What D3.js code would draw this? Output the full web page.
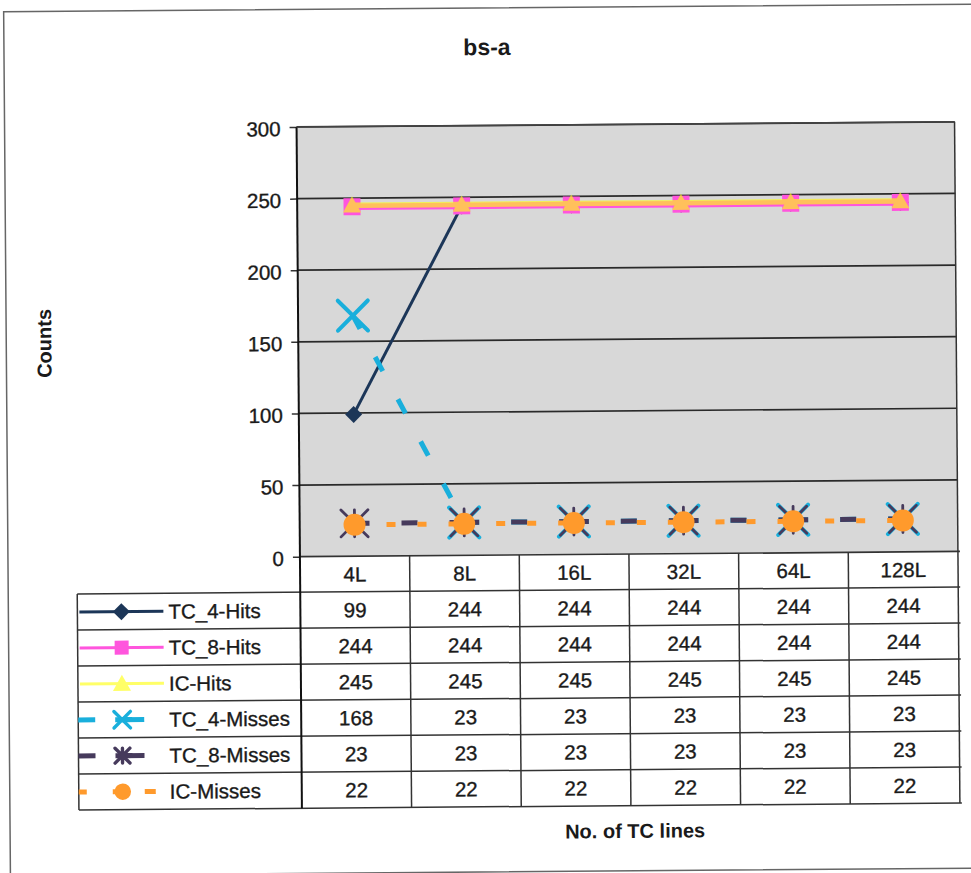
<!DOCTYPE html>
<html>
<head>
<meta charset="utf-8">
<script src="https://cdn.jsdelivr.net/npm/d3@7"></script>
<style>
  body { margin: 0; background: #fff; }
  svg { display: block; }
  text { font-family: "Liberation Sans", Arial, sans-serif; fill: #1a1a1a; }
  text.reg { stroke: #1a1a1a; stroke-width: 0.35; }
</style>
</head>
<body>
<svg id="chart" width="971" height="873"></svg>
<script>
// ---- data ----
const chartTitle = "bs-a";
const yTitle = "Counts";
const xTitle = "No. of TC lines";
const categories = ["4L", "8L", "16L", "32L", "64L", "128L"];
const seriesNames = ["TC_4-Hits", "TC_8-Hits", "IC-Hits", "TC_4-Misses", "TC_8-Misses", "IC-Misses"];
const tc4Hits   = [99, 244, 244, 244, 244, 244];
const tc8Hits   = [244, 244, 244, 244, 244, 244];
const icHits    = [245, 245, 245, 245, 245, 245];
const tc4Misses = [168, 23, 23, 23, 23, 23];
const tc8Misses = [23, 23, 23, 23, 23, 23];
const icMisses  = [22, 22, 22, 22, 22, 22];
const yTicks = [0, 50, 100, 150, 200, 250, 300];

const seriesValues = [tc4Hits, tc8Hits, icHits, tc4Misses, tc8Misses, icMisses];

// ---- appearance of each series ----
const styles = [
  { color: "#1c3658", width: 3,   marker: "diamond", size: 8.5, dash: null },
  { color: "#ff55dd", width: 6.5, marker: "square",  size: 8.5, dash: null, legendSize: 7, legendWidth: 3 },
  { color: "#ffff10", width: 5.5, marker: "triangle",size: 9,   dash: null, opacity: 0.63, legendWidth: 3 },
  { color: "#19afdc", width: 5,   marker: "x",       size: 15,  dash: "16,32", offset: 1, mwidth: 4 },
  { color: "#463a5c", width: 5,   marker: "star",    size: 13.5,dash: "16,32", offset: 1, mwidth: 2.8 },
  { color: "#ff9a2c", width: 5,   marker: "circle",  size: 11,  dash: "9,22",  offset: -1 }
];

// ---- layout ----
const plot = { left: 299, right: 957, top: 125.5, bottom: 555.2 };
const rowH = 36;
const headerBottom = plot.bottom + 35.6;
const tableLeft = 76;
const tableBottom = headerBottom + rowH * seriesNames.length;
const fs = 20.5;

const svg = d3.select("#chart");
const root = svg.append("g").attr("transform", "rotate(-0.45,485,436)");

const x = d3.scalePoint().domain(categories).range([plot.left, plot.right]).padding(0.5);
const step = x.step();
const y = d3.scaleLinear().domain([0, 300]).range([plot.bottom, plot.top]);

// outer frame
root.append("rect")
  .attr("x", 7).attr("y", 8).attr("width", 975).attr("height", 864)
  .attr("fill", "none").attr("stroke", "#666").attr("stroke-width", 1.5);

// title
root.append("text").attr("x", 490).attr("y", 55)
  .attr("text-anchor", "middle").attr("font-size", 23).attr("font-weight", "bold")
  .text(chartTitle);

// plot background
root.append("rect")
  .attr("x", plot.left).attr("y", plot.top)
  .attr("width", plot.right - plot.left).attr("height", plot.bottom - plot.top)
  .attr("fill", "#d8d8d8");

// horizontal gridlines
root.append("g").selectAll("line").data(yTicks.filter(d => d > 0)).join("line")
  .attr("x1", plot.left).attr("x2", plot.right)
  .attr("y1", d => y(d)).attr("y2", d => y(d))
  .attr("stroke", "#2a2a2a").attr("stroke-width", 1.7);

// y axis
const yAxis = root.append("g").attr("transform", `translate(${plot.left},0)`)
  .call(d3.axisLeft(y).tickValues(yTicks).tickSize(7).tickPadding(9));
yAxis.select(".domain").remove();
yAxis.selectAll(".tick line").attr("stroke", "#333").attr("stroke-width", 1.5);
yAxis.selectAll(".tick text")
  .attr("class", "reg")
  .attr("font-size", fs).attr("font-family", "Liberation Sans, Arial, sans-serif")
  .attr("fill", "#1a1a1a").attr("dy", "0.42em");

// y title
root.append("text")
  .attr("transform", "translate(52,340) rotate(-90)")
  .attr("text-anchor", "middle").attr("font-size", 20).attr("font-weight", "bold")
  .text(yTitle);

// marker shapes
function markerPath(type, s) {
  switch (type) {
    case "diamond":  return `M0,${-s}L${s},0L0,${s}L${-s},0Z`;
    case "square":   return `M${-s},${-s}H${s}V${s}H${-s}Z`;
    case "triangle": return `M0,${-s}L${s},${s * 0.8}L${-s},${s * 0.8}Z`;
    case "x":        return `M${-s},${-s}L${s},${s}M${-s},${s}L${s},${-s}`;
    case "star":     return `M${-s},${-s}L${s},${s}M${-s},${s}L${s},${-s}M0,${-s}L0,${s}`;
    default:         return null;
  }
}
function drawMarker(g, st, cx, cy, s) {
  if (st.marker === "circle") {
    g.append("circle").attr("cx", cx).attr("cy", cy).attr("r", s).attr("fill", st.color);
    return;
  }
  const p = g.append("path").attr("d", markerPath(st.marker, s))
    .attr("transform", `translate(${cx},${cy})`);
  if (st.marker === "x" || st.marker === "star") {
    p.attr("fill", "none").attr("stroke", st.color).attr("stroke-width", st.mwidth)
      .attr("stroke-linecap", "round");
  } else {
    p.attr("fill", st.color);
  }
}

// series lines and markers
const lineGen = d3.line().x(d => x(d.cat)).y(d => y(d.v));
const seriesLayer = root.append("g");
seriesValues.forEach((vals, si) => {
  const st = styles[si];
  const pts = vals.map((v, i) => ({ cat: categories[i], v }));
  const g = seriesLayer.append("g");
  if (st.opacity) g.attr("opacity", st.opacity);
  for (let i = 0; i < pts.length - 1; i++) {
    const seg = g.append("path").attr("d", lineGen([pts[i], pts[i + 1]]))
      .attr("fill", "none").attr("stroke", st.color).attr("stroke-width", st.width)
      .attr("stroke-linejoin", "round");
    if (st.dash) seg.attr("stroke-dasharray", st.dash).attr("stroke-dashoffset", st.offset);
  }
  pts.forEach(p => drawMarker(g, st, x(p.cat), y(p.v), st.size));
});

// ---- data table ----
const table = root.append("g");
const colEdges = d3.range(categories.length + 1).map(i => plot.left + i * step);
const rowLines = d3.range(seriesNames.length + 1).map(i => headerBottom + i * rowH);

// category header
table.selectAll("text.cat").data(categories).join("text")
  .attr("class", "cat reg")
  .attr("x", d => x(d)).attr("y", (plot.bottom + headerBottom) / 2)
  .attr("dy", "0.36em").attr("text-anchor", "middle").attr("font-size", fs)
  .text(d => d);

// values
seriesValues.forEach((vals, si) => {
  const cy = headerBottom + si * rowH + rowH / 2;
  table.append("g").selectAll("text").data(vals).join("text")
    .attr("class", "reg")
    .attr("x", (d, i) => x(categories[i])).attr("y", cy)
    .attr("dy", "0.36em").attr("text-anchor", "middle").attr("font-size", fs)
    .text(d => d);
});

// grid of the table
const tableStroke = "#333";
table.append("line").attr("x1", plot.left).attr("x2", plot.right + 2)
  .attr("y1", plot.bottom).attr("y2", plot.bottom)
  .attr("stroke", tableStroke).attr("stroke-width", 1.7);
table.selectAll("line.row").data(rowLines).join("line").attr("class", "row")
  .attr("x1", tableLeft).attr("x2", plot.right + 2)
  .attr("y1", d => d).attr("y2", d => d)
  .attr("stroke", tableStroke).attr("stroke-width", 1.5);
table.selectAll("line.col").data(colEdges).join("line").attr("class", "col")
  .attr("x1", d => d).attr("x2", d => d)
  .attr("y1", (d, i) => i === 0 || i === colEdges.length - 1 ? plot.top : plot.bottom)
  .attr("y2", tableBottom)
  .attr("stroke", (d, i) => i === 0 ? "#111" : tableStroke)
  .attr("stroke-width", (d, i) => i === 0 ? 2 : 1.5);
table.append("line").attr("x1", tableLeft).attr("x2", tableLeft)
  .attr("y1", headerBottom).attr("y2", tableBottom)
  .attr("stroke", tableStroke).attr("stroke-width", 1.5);
// plot top border
table.append("line").attr("x1", plot.left).attr("x2", plot.right)
  .attr("y1", plot.top).attr("y2", plot.top)
  .attr("stroke", "#444").attr("stroke-width", 1.5);

// legend keys inside the first column
seriesNames.forEach((name, si) => {
  const st = styles[si];
  const cy = headerBottom + si * rowH + rowH / 2;
  const g = table.append("g");
  if (st.opacity) g.attr("opacity", st.opacity);
  const mx = 120;
  if (st.dash) {
    g.append("line").attr("x1", 76).attr("x2", 146).attr("y1", cy).attr("y2", cy)
      .attr("stroke", st.color).attr("stroke-width", st.width)
      .attr("stroke-dasharray", st.marker === "circle" ? "8,26" : "17,20");
  } else {
    g.append("line").attr("x1", 78).attr("x2", 162).attr("y1", cy).attr("y2", cy)
      .attr("stroke", st.color).attr("stroke-width", st.legendWidth || st.width);
  }
  if (st.marker === "x" || st.marker === "star") {
    g.append("line").attr("x1", mx).attr("x2", 142).attr("y1", cy).attr("y2", cy)
      .attr("stroke", st.color).attr("stroke-width", st.width);
    drawMarker(g, Object.assign({}, st, { mwidth: 3.4 }), mx, cy, st.size * 0.55);
  } else if (st.marker === "circle") {
    g.append("line").attr("x1", 142).attr("x2", 153).attr("y1", cy).attr("y2", cy)
      .attr("stroke", st.color).attr("stroke-width", st.width);
    drawMarker(g, st, mx, cy, st.size * 0.75);
  } else {
    drawMarker(g, st, mx, cy, st.legendSize || st.size);
  }
  table.append("text").attr("class", "reg").attr("x", 167).attr("y", cy).attr("dy", "0.36em")
    .attr("font-size", fs).text(name);
});

// x title
root.append("text").attr("x", 632).attr("y", 839)
  .attr("text-anchor", "middle").attr("font-size", 20).attr("font-weight", "bold")
  .text(xTitle);
</script>
</body>
</html>
